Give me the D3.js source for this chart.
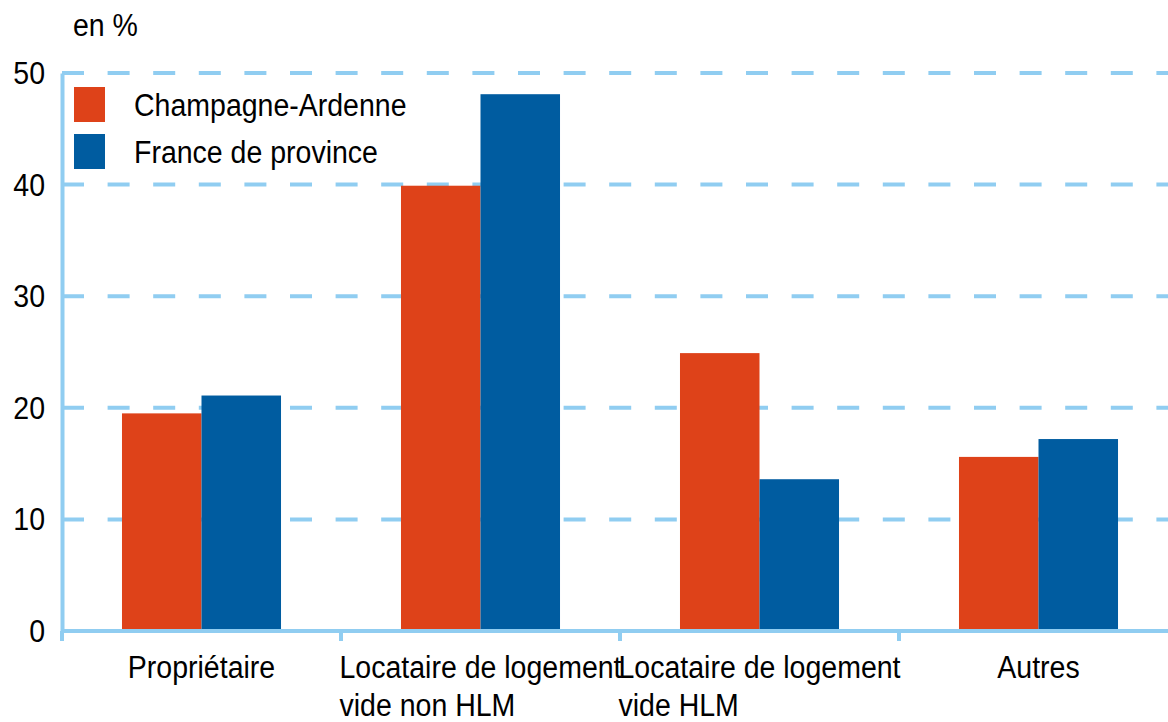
<!DOCTYPE html>
<html>
<head>
<meta charset="utf-8">
<script src="https://cdn.jsdelivr.net/npm/d3@7"></script>
<style>
  body { margin: 0; background: #fff; }
  text { font-family: "Liberation Sans", Arial, sans-serif; fill: #000; }
</style>
</head>
<body>
<script>
const categories = [
  ["Propriétaire"],
  ["Locataire de logement", "vide non HLM"],
  ["Locataire de logement", "vide HLM"],
  ["Autres"],
];
const series = ["Champagne-Ardenne", "France de province"];
const champagne = [19.5, 39.9, 24.9, 15.6];
const france = [21.1, 48.1, 13.6, 17.2];
const yTicks = [0, 10, 20, 30, 40, 50];

const width = 1168;
const height = 722;
const margin = { top: 73, left: 62, bottom: 91 };
const gridColor = "#90cdf1";
const colors = ["#de4219", "#005ca0"];
const fontSize = 31;
const squeeze = 0.92; // the original uses a condensed face

const svg = d3
  .select("body")
  .append("svg")
  .attr("width", width)
  .attr("height", height);

// place a condensed text at (x, y)
function narrowText(parent, x, y, str, anchor) {
  return parent
    .append("text")
    .attr("transform", `translate(${x},${y}) scale(${squeeze},1)`)
    .attr("text-anchor", anchor || "start")
    .attr("font-size", fontSize)
    .text(str);
}

// band step of the categories runs past the right edge, like the original
const x0 = d3
  .scaleBand()
  .domain(d3.range(categories.length))
  .range([margin.left, margin.left + 279 * categories.length])
  .padding(0);

const x1 = d3
  .scaleBand()
  .domain(series)
  .range([x0.bandwidth() * 0.215, x0.bandwidth() * 0.785]);

const y = d3
  .scaleLinear()
  .domain([0, 50])
  .range([height - margin.bottom, margin.top]);

// dashed grid
svg
  .append("g")
  .selectAll("line")
  .data(yTicks.filter((d) => d > 0))
  .enter()
  .append("line")
  .attr("x1", margin.left)
  .attr("x2", width)
  .attr("y1", (d) => y(d))
  .attr("y2", (d) => y(d))
  .attr("stroke", gridColor)
  .attr("stroke-width", 4)
  .attr("stroke-dasharray", "22 23.6");

// bars
const rows = categories.map((c, i) => [champagne[i], france[i]]);
svg
  .append("g")
  .selectAll("g")
  .data(rows)
  .enter()
  .append("g")
  .attr("transform", (d, i) => `translate(${x0(i)},0)`)
  .selectAll("rect")
  .data((d) => d.map((v, j) => ({ key: series[j], value: v, j: j })))
  .enter()
  .append("rect")
  .attr("x", (d) => x1(d.key))
  .attr("y", (d) => y(d.value))
  .attr("width", x1.bandwidth())
  .attr("height", (d) => y(0) - y(d.value))
  .attr("fill", (d) => colors[d.j]);

// y axis
const yAxis = svg
  .append("g")
  .attr("transform", `translate(${margin.left},0)`)
  .call(d3.axisLeft(y).tickValues(yTicks).tickSize(0).tickFormat(""));
yAxis.select(".domain").attr("stroke", gridColor).attr("stroke-width", 4);
yTicks.forEach((t) => narrowText(yAxis, -17, y(t) + 11, t, "end"));

// x axis
const xAxis = svg
  .append("g")
  .attr("transform", `translate(0,${y(0)})`);
xAxis
  .append("line")
  .attr("x1", margin.left)
  .attr("x2", width)
  .attr("stroke", gridColor)
  .attr("stroke-width", 4);
xAxis
  .selectAll(".tick")
  .data(d3.range(categories.length))
  .enter()
  .append("line")
  .attr("class", "tick")
  .attr("x1", (d) => x0(d))
  .attr("x2", (d) => x0(d))
  .attr("y1", 0)
  .attr("y2", 10)
  .attr("stroke", gridColor)
  .attr("stroke-width", 4);

// category labels: block centered, lines aligned left
categories.forEach((lines, i) => {
  const first = narrowText(xAxis, 0, 0, lines[0]);
  const w = first.node().getComputedTextLength() * squeeze;
  const x = x0(i) + x0.bandwidth() / 2 - w / 2;
  first.remove();
  lines.forEach((l, k) => narrowText(xAxis, x, 47 + k * 38, l));
});

// unit
narrowText(svg, 73, 36, "en %");

// legend
const legend = svg
  .append("g")
  .attr("transform", "translate(74,87)")
  .selectAll("g")
  .data(series)
  .enter()
  .append("g")
  .attr("transform", (d, i) => `translate(0,${i * 47})`);
legend
  .append("rect")
  .attr("width", 31)
  .attr("height", 35)
  .attr("fill", (d, i) => colors[i]);
legend.each(function (d) {
  narrowText(d3.select(this), 60, 29, d);
});
</script>
</body>
</html>
